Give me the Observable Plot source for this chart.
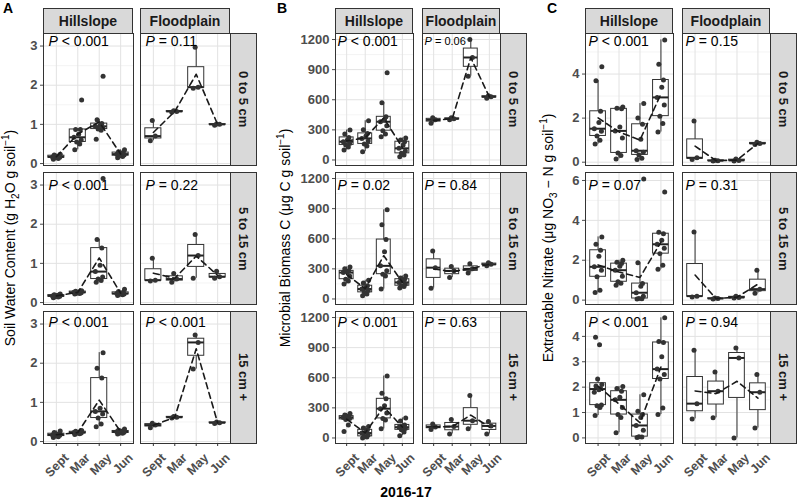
<!DOCTYPE html>
<html><head><meta charset="utf-8">
<script src="https://cdn.jsdelivr.net/npm/d3@7"></script>
<script src="https://cdn.jsdelivr.net/npm/@observablehq/plot@0.6"></script>
<style>
html,body{margin:0;padding:0;background:#fff;}
#chart{position:relative;width:800px;height:502px;font-family:"Liberation Sans",Arial,sans-serif;overflow:hidden;background:#fff;}
.strip{position:absolute;box-sizing:border-box;background:#d9d9d9;border:1px solid #333;font-weight:bold;font-size:14px;color:#1a1a1a;display:flex;align-items:center;justify-content:center;white-space:nowrap;}
.strip.v{writing-mode:vertical-rl;font-size:13px;}
.letter{position:absolute;font-weight:bold;font-size:14px;line-height:14px;color:#000;}
.ytitle{position:absolute;font-size:14px;line-height:16px;white-space:nowrap;color:#000;transform:translate(-50%,-50%) rotate(-90deg);}
.ytitle sub,.ytitle sup{font-size:10px;line-height:0;}
.xtitle{position:absolute;font-weight:bold;font-size:14px;line-height:14px;color:#000;transform:translateX(-50%);}
#chart svg g[aria-label="y-axis tick label"] text{font-weight:bold;}
</style></head>
<body><div id="chart"></div>
<script>
// ---------- categories ----------
const months = ["Sept", "Mar", "May", "Jun"];
const sites = ["Hillslope", "Floodplain"];
const depths = ["0 to 5 cm", "5 to 15 cm", "15 cm +"];

// ---------- A: soil water content (g H2O g soil-1); rows = depths, cols = months ----------
const waterHill = [
  [[0.11,0.13,0.15,0.16,0.17,0.18,0.2,0.22,0.24],
   [0.35,0.5,0.55,0.6,0.67,0.75,0.87,0.87,1.62],
   [0.62,0.85,0.88,0.92,0.95,0.98,1.02,1.12,2.23],
   [0.15,0.18,0.2,0.22,0.24,0.26,0.28,0.3,0.35]],
  [[0.12,0.14,0.15,0.16,0.17,0.18,0.19,0.2,0.22],
   [0.22,0.23,0.24,0.25,0.26,0.27,0.28,0.29,0.3],
   [0.52,0.56,0.6,0.65,0.79,0.95,1.39,1.61,3.17],
   [0.18,0.2,0.21,0.22,0.23,0.24,0.26,0.28,0.34]],
  [[0.1,0.12,0.14,0.16,0.17,0.18,0.2,0.23,0.27],
   [0.18,0.2,0.21,0.22,0.23,0.24,0.25,0.26,0.28],
   [0.38,0.45,0.6,0.7,0.77,0.85,1.62,1.87,2.27],
   [0.19,0.21,0.22,0.24,0.25,0.26,0.27,0.29,0.32]]
];
const waterFlood = [
  [[0.58,0.7,1.1],[1.31,1.33,1.35],[1.92,1.95,2.97],[0.98,1.0,1.01]],
  [[0.55,0.57,1.13],[0.52,0.6,0.74],[0.62,1.2,1.74],[0.62,0.66,0.8]],
  [[0.35,0.42,0.47],[0.6,0.62,0.64],[1.85,2.53,2.72],[0.46,0.48,0.5]]
];
const waterP = [["< 0.001","= 0.11"],["< 0.001","= 0.22"],["< 0.001","< 0.001"]];
const waterTicks = [0, 1, 2, 3];
const waterMinor = [0.5, 1.5, 2.5];

// ---------- B: microbial biomass C (ug C g soil-1) ----------
const biomassHill = [
  [[100,130,150,165,182,200,225,260,298],
   [83,140,160,190,215,240,265,300,391],
   [232,260,292,340,381,400,430,570,868],
   [33,50,66,90,116,150,182,200,220]],
  [[148,180,197,230,263,270,280,300,319],
   [33,50,66,85,99,115,132,160,187],
   [99,230,247,280,330,470,592,740,888],
   [110,125,132,150,165,180,197,210,230]],
  [[65,130,185,195,205,212,218,230,244],
   [0,10,16,30,49,60,81,100,114],
   [91,180,195,250,292,320,390,445,617],
   [23,60,81,95,107,115,130,170,200]]
];
const biomassFlood = [
  [[365,400,420],[400,410,420],[835,1021,1199],[615,630,640]],
  [[108,312,478],[214,280,324],[260,300,350],[330,345,360]],
  [[85,110,140],[40,114,185],[91,172,422],[40,120,165]]
];
const biomassP = [["< 0.001","= 0.06"],["= 0.02","= 0.84"],["< 0.001","= 0.63"]];
const biomassTicks = [0, 300, 600, 900, 1200];
const biomassMinor = [150, 450, 750, 1050];

// ---------- C: extractable nitrate (ug NO3-N g soil-1) ----------
const nitrateHill = [
  [[0.82,1.0,1.19,1.4,1.52,1.8,2.31,3.7,4.33],
   [0.15,0.3,0.42,1.1,1.42,1.6,2.42,2.45,2.5],
   [0.12,0.18,0.33,0.45,0.52,1.04,1.72,2.0,2.66],
   [1.37,1.76,2.09,2.6,2.94,3.4,3.73,4.45,5.55]],
  [[0.38,0.5,1.17,1.5,1.67,2.2,2.5,2.8,3.17],
   [0.75,0.85,0.92,1.2,1.5,1.7,1.83,1.9,2.0],
   [0.05,0.07,0.08,0.2,0.37,0.7,0.83,1.87,6.08],
   [1.55,1.75,2.33,2.6,2.8,3.0,3.33,3.4,5.42]],
  [[0.88,1.2,1.27,1.3,1.8,1.9,1.95,2.05,2.1,2.32,3.67,3.97],
   [0.2,0.8,0.92,1.2,1.5,1.6,1.84,1.95,2.03],
   [0.02,0.04,0.05,0.3,0.49,0.8,0.92,1.05,1.7],
   [0.92,1.18,2.32,2.5,2.71,3.2,3.76,3.8,4.73]]
];
const nitrateFlood = [
  [[0.12,0.2,1.87],[0.05,0.07,0.09],[0.05,0.08,0.15],[0.8,0.85,0.9]],
  [[0.15,0.2,3.42],[0.05,0.08,0.1],[0.1,0.13,0.2],[0.35,0.55,1.5]],
  [[0.75,1.35,3.45],[0.79,1.84,2.6],[0.0,3.15,3.54],[0.39,1.8,2.5]]
];
const nitrateP = [["< 0.001","= 0.15"],["= 0.07","= 0.31"],["< 0.001","= 0.94"]];
const nitrateTicks = [[0, 2, 4], [0, 2, 4, 6], [0, 1, 2, 3, 4]];
const nitrateMinor = [[1, 3, 5], [1, 3, 5], [0.5, 1.5, 2.5, 3.5, 4.5]];

const xTitle = "2016-17";

// ---------- layout (not data) ----------
const jitter = [-0.14, 0.09, -0.05, 0.16, -0.18, 0.04, 0.12, -0.1, 0.18, -0.02, 0.07, -0.12];
const rowTops = [33, 172, 311];
const cellH = 132;
const pDy = [3, 8, 6];

const panels = [
  {letter: "A", letterX: 3, titleX: 10,
   title: "Soil Water Content (g H<sub>2</sub>O g soil<sup>−1</sup>)",
   cellX: [43, 140], cellW: 90, pdx: 5,
   data: [waterHill, waterFlood], pv: waterP,
   ticks: [waterTicks, waterTicks, waterTicks], minor: [waterMinor, waterMinor, waterMinor],
   domain: [[-0.05, 3.32], [-0.05, 3.32], [-0.05, 3.32]]},
  {letter: "B", letterX: 277, titleX: 285,
   title: "Microbial Biomass C (μg C g soil<sup>−1</sup>)",
   cellX: [335, 422], cellW: 78, pdx: 2,
   data: [biomassHill, biomassFlood], pv: biomassP,
   ticks: [biomassTicks, biomassTicks, biomassTicks], minor: [biomassMinor, biomassMinor, biomassMinor],
   domain: [[-55, 1260], [-55, 1260], [-55, 1260]]},
  {letter: "C", letterX: 547, titleX: 548,
   title: "Extractable Nitrate (μg NO<sub>3</sub> − N g soil<sup>−1</sup>)",
   cellX: [585, 682], cellW: 88, pdx: 3,
   data: [nitrateHill, nitrateFlood], pv: nitrateP,
   ticks: nitrateTicks, minor: nitrateMinor,
   domain: [[-0.15, 5.84], [-0.22, 6.4], [-0.22, 4.98]]}
];

const chart = document.getElementById("chart");

function boxStats(vals) {
  const s = vals.slice().sort(d3.ascending);
  const q1 = d3.quantile(s, 0.25), med = d3.quantile(s, 0.5), q3 = d3.quantile(s, 0.75);
  const iqr = q3 - q1;
  const inside = s.filter(v => v >= q1 - 1.5 * iqr && v <= q3 + 1.5 * iqr);
  return {q1, med, q3, lo: d3.min(inside), hi: d3.max(inside), mean: d3.mean(s)};
}

function addDiv(cls, left, top, w, h, html) {
  const d = document.createElement("div");
  d.className = cls;
  d.style.left = left + "px"; d.style.top = top + "px";
  if (w != null) d.style.width = w + "px";
  if (h != null) d.style.height = h + "px";
  d.innerHTML = html;
  chart.appendChild(d);
  return d;
}

function makeCell(P, r, s) {
  const groups = P.data[s][r];
  const boxes = [], pts = [];
  groups.forEach((vals, k) => {
    const m = k + 1;
    boxes.push({m, ...boxStats(vals)});
    vals.forEach((v, i) => pts.push({m, v, j: jitter[i % jitter.length]}));
  });
  const isLeft = s === 0, isBottom = r === 2;
  const ml = isLeft ? 45 : 0, mb = isBottom ? 55 : 0;
  const hw = 0.375;
  const small = P.letter === "B" && r === 0 && s === 1;
  const pSize = small ? 11 : 14;
  const dy = small ? 4 : pDy[r];
  const marks = [
    Plot.gridY(P.minor[r], {stroke: "#ececec", strokeOpacity: 1, strokeWidth: 0.6}),
    Plot.gridY(P.ticks[r], {stroke: "#e2e2e2", strokeOpacity: 1, strokeWidth: 1}),
    Plot.gridX([1, 2, 3, 4], {stroke: "#e2e2e2", strokeOpacity: 1, strokeWidth: 1}),
    Plot.ruleX(boxes, {x: "m", y1: "lo", y2: "q1", stroke: "#333", strokeWidth: 1}),
    Plot.ruleX(boxes, {x: "m", y1: "q3", y2: "hi", stroke: "#333", strokeWidth: 1}),
    Plot.rect(boxes, {x1: d => d.m - hw, x2: d => d.m + hw, y1: "q1", y2: "q3", fill: "white", stroke: "#333", strokeWidth: 1}),
    Plot.ruleY(boxes, {y: "med", x1: d => d.m - hw, x2: d => d.m + hw, stroke: "#222", strokeWidth: 2}),
    Plot.dot(pts, {x: d => d.m + d.j, y: "v", r: 2.5, fill: "#333"}),
    Plot.line(boxes, {x: "m", y: "mean", stroke: "#1a1a1a", strokeWidth: 1.6, strokeDasharray: "6,4"}),
    Plot.frame({stroke: "#333", strokeWidth: 1}),
    Plot.text(["P"], {text: d => d, frameAnchor: "top-left", textAnchor: "start", lineAnchor: "top",
      dx: P.pdx, dy, fontStyle: "italic", fontSize: pSize, fill: "black"}),
    Plot.text([P.pv[r][s]], {text: d => d, frameAnchor: "top-left", textAnchor: "start", lineAnchor: "top",
      dx: P.pdx + pSize * 0.95, dy, fontSize: pSize, fill: "black"})
  ];
  if (isLeft) marks.push(Plot.axisY(P.ticks[r], {tickSize: 3, tickPadding: 3, tickFormat: d => String(d),
    fontWeight: "bold", fontSize: 13, color: "#4d4d4d", label: null}));
  if (isBottom) marks.push(
    Plot.axisX([1, 2, 3, 4], {tickSize: 3, tickFormat: () => "", color: "#333", label: null}),
    Plot.text([1, 2, 3, 4], {x: d => d, text: d => months[d - 1], frameAnchor: "bottom", rotate: -45,
      textAnchor: "end", lineAnchor: "bottom", dx: 13, dy: 15, fontWeight: "bold", fontSize: 12.5, fill: "#4d4d4d"})
  );
  const svg = Plot.plot({
    width: ml + P.cellW, height: cellH + mb,
    marginLeft: ml, marginRight: 0, marginTop: 0, marginBottom: mb,
    x: {type: "linear", domain: [0.4, 4.6], axis: null},
    y: {type: "linear", domain: P.domain[r], axis: null},
    style: {background: "transparent", overflow: "visible", fontFamily: "'Liberation Sans', Arial, sans-serif",
      fontSize: "13px", color: "#4d4d4d"},
    marks
  });
  svg.style.position = "absolute";
  svg.style.left = (P.cellX[s] - ml) + "px";
  svg.style.top = rowTops[r] + "px";
  chart.appendChild(svg);
}

panels.forEach(P => {
  for (let r = 0; r < 3; r++) for (let s = 0; s < 2; s++) makeCell(P, r, s);
  sites.forEach((name, s) => addDiv("strip", P.cellX[s], 8, P.cellW, 26, name));
  const sx = P.cellX[1] + P.cellW;
  depths.forEach((name, r) => addDiv("strip v", sx, rowTops[r], 27, cellH + 1, name));
  addDiv("letter", P.letterX, 1, null, null, P.letter);
  addDiv("ytitle", P.titleX, 238, null, null, P.title);
});
addDiv("xtitle", 406, 485, null, null, xTitle);
</script>
</body></html>
